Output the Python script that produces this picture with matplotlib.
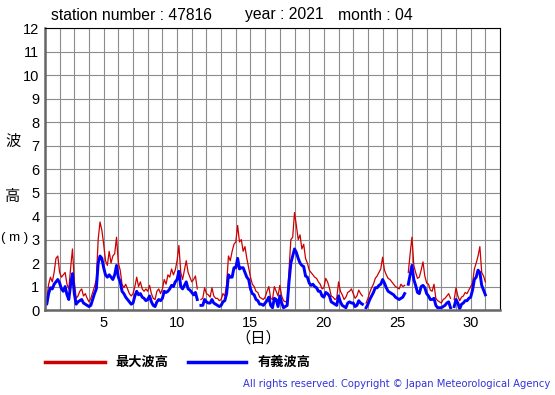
import numpy as np
import matplotlib
matplotlib.use("Agg")
import matplotlib.pyplot as plt
from matplotlib.lines import Line2D

plt.rcParams['font.family'] = ['Liberation Sans', 'Noto Sans CJK JP', 'DejaVu Sans']

# 3時間ごとの値 (4月1日0時から), None は欠測
max_wave = [
    0.6, 0.45, 1.1, 1.4, 1.2, 1.6, 2.2, 2.3,      # 1日
    1.6, 1.4, 1.5, 1.6, 1.1, 0.9, 1.8, 2.6,       # 2日
    1.2, 0.5, 0.6, 0.8, 0.9, 0.6, 0.7, 0.5,       # 3日
    0.35, 0.5, 0.75, 1.0, 1.3, 3.0, 3.75, 3.4,    # 4日
    2.8, 2.1, 1.9, 2.5, 2.0, 2.3, 2.4, 3.1,       # 5日
    2.0, 1.7, 1.1, 0.95, 1.1, 0.9, 0.7, 0.6,      # 6日
    0.7, 1.0, 1.4, 1.0, 1.2, 0.9, 0.8, 0.9,       # 7日
    0.8, 1.05, 0.7, 0.5, 0.45, 0.8, 0.9, 0.7,     # 8日
    0.9, 1.3, 1.1, 1.5, 1.4, 1.75, 1.5, 1.7,      # 9日
    2.1, 2.75, 1.6, 1.3, 1.7, 2.1, 1.6, 1.4,      # 10日
    1.2, 1.3, 1.45, 0.9, None, 0.45, 0.5, 0.95,   # 11日
    0.7, 0.65, 0.55, 0.95, 0.6, 0.5, 0.5, 0.4,    # 12日
    0.45, 0.7, 0.6, 1.1, 2.3, 2.1, 2.5, 2.8,      # 13日
    2.9, 3.6, 2.9, 3.0, 2.5, 2.7, 2.2, 1.8,       # 14日
    1.4, 1.1, 1.0, 0.8, 0.75, 0.55, 0.5, 0.45,    # 15日
    0.55, 0.8, 1.0, 0.5, 0.45, 1.0, 0.8, 0.6,     # 16日
    1.05, 0.6, 0.4, 0.35, 0.4, 1.7, 3.0, 3.1,     # 17日
    4.15, 3.6, 3.0, 3.2, 2.6, 2.8, 2.2, 2.0,      # 18日
    1.7, 1.6, 1.5, 1.4, 1.35, 1.2, 1.1, 0.9,      # 19日
    0.95, 1.35, 1.2, 0.95, 0.6, 0.55, 0.45, 0.5,  # 20日
    1.2, 0.8, 0.65, 0.45, 0.55, 0.75, 0.8, 0.9,   # 21日
    0.7, 0.5, 0.6, 0.85, 0.7, 0.6, None, 0.3,     # 22日
    0.5, 0.75, 0.95, 1.1, 1.35, 1.45, 1.6, 1.75,  # 23日
    2.25, 1.7, 1.5, 1.35, 1.3, 1.2, 1.1, 1.0,     # 24日
    0.95, 0.9, 1.1, 1.0, 1.05, None, 1.6, 2.4,    # 25日
    3.1, 1.9, 1.6, 1.35, 1.4, 1.7, 2.05, 1.45,    # 26日
    1.15, 1.1, 0.85, 0.8, 1.1, 0.5, 0.4, 0.35,    # 27日
    0.3, 0.45, 0.5, 0.6, 0.7, 0.5, None, 0.45,    # 28日
    0.95, 0.6, 0.4, 0.55, 0.6, 0.75, 0.7, 0.85,   # 29日
    1.0, 1.15, 1.75, 2.0, 2.3, 2.7, 1.6, 1.45,    # 30日
    1.2,
]
sig_wave = [
    0.35, 0.25, 0.7, 0.95, 0.9, 1.1, 1.2, 1.3,
    1.15, 0.9, 0.8, 1.0, 0.65, 0.45, 1.1, 1.55,
    0.7, 0.25, 0.35, 0.4, 0.45, 0.3, 0.25, 0.2,
    0.15, 0.2, 0.45, 0.7, 0.9, 2.0, 2.3, 2.2,
    1.8, 1.5, 1.4, 1.5, 1.4, 1.3, 1.5, 1.9,
    1.4, 1.2, 0.8, 0.7, 0.55, 0.45, 0.35, 0.25,
    0.3, 0.6, 0.8, 0.65, 0.7, 0.55, 0.5, 0.4,
    0.45, 0.6, 0.35, 0.2, 0.15, 0.35, 0.45, 0.4,
    0.5, 0.8, 0.75, 0.8, 0.9, 1.05, 1.0, 1.2,
    1.3, 1.65, 1.0, 0.9, 1.05, 1.2, 0.9, 0.85,
    0.75, 0.65, 0.75, 0.45, None, 0.2, 0.2, 0.45,
    0.35, 0.3, 0.3, 0.45, 0.3, 0.25, 0.2, 0.15,
    0.2, 0.35, 0.4, 0.7, 1.5, 1.4, 1.4, 1.8,
    1.8, 2.2, 1.75, 1.8, 1.8, 1.6, 1.4, 1.3,
    0.9, 0.7, 0.65, 0.45, 0.4, 0.25, 0.25, 0.2,
    0.3, 0.4, 0.55, 0.2, 0.1, 0.5, 0.45, 0.15,
    0.6, 0.3, 0.1, 0.15, 0.2, 1.2, 2.0, 2.3,
    2.6, 2.45, 2.2, 2.0, 1.9, 1.85, 1.45, 1.4,
    1.15, 1.05, 1.1, 1.0, 0.95, 0.8, 0.8, 0.6,
    0.55, 0.75, 0.7, 0.6, 0.35, 0.3, 0.25, 0.2,
    0.6, 0.35, 0.2, 0.15, 0.1, 0.3, 0.35, 0.3,
    0.3, 0.15, 0.2, 0.4, 0.3, 0.25, None, 0.1,
    0.25, 0.45, 0.6, 0.75, 0.95, 0.95, 1.05, 1.1,
    1.3, 1.15, 0.95, 0.8, 0.75, 0.7, 0.65, 0.55,
    0.5, 0.45, 0.5, 0.55, 0.7, None, 1.1, 1.5,
    1.9, 1.3, 1.05, 0.75, 0.7, 1.0, 1.05, 0.95,
    0.7, 0.6, 0.45, 0.45, 0.5, 0.2, 0.1, 0.1,
    0.1, 0.15, 0.2, 0.3, 0.35, 0.1, None, 0.15,
    0.45, 0.3, 0.05, 0.25, 0.3, 0.4, 0.4, 0.5,
    0.55, 0.85, 1.3, 1.4, 1.7, 1.6, 1.05, 0.85,
    0.65,
]
x_ticks = [5, 10, 15, 20, 25, 30]

mx = np.array([np.nan if v is None else v for v in max_wave])
sg = np.array([np.nan if v is None else v for v in sig_wave])
t = 1 + np.arange(len(mx)) / 8.0   # 日

fig = plt.figure(figsize=(5.55, 3.95), dpi=100)
ax = fig.add_axes([0.081, 0.215, 0.820, 0.714])

ax.plot(t, mx, color='#cc0000', lw=0.9)
ax.plot(t, sg, color='#0000ff', lw=2.1)

ax.set_xlim(1, 32)
ax.set_ylim(0, 12)
ax.set_xticks(np.arange(1, 33))
ax.set_xticklabels(['' if d not in x_ticks else str(d) for d in range(1, 33)])
ax.set_yticks(np.arange(0, 13))
ax.grid(True, color='#8c8c8c', lw=0.8)
ax.tick_params(length=0, labelsize=10.5, pad=4)
for s in ['left', 'bottom']:
    ax.spines[s].set_color('#666666')
    ax.spines[s].set_linewidth(1.8)
for s in ['top', 'right']:
    ax.spines[s].set_color('black')
    ax.spines[s].set_linewidth(0.8)

# タイトル
ty = 1 - 15 / 395
fig.text(51 / 555, ty, 'station number : 47816', fontsize=11.3, va='center')
fig.text(245 / 555, ty, 'year : 2021', fontsize=11.3, va='center')
fig.text(338 / 555, ty, 'month : 04', fontsize=11.3, va='center')

# 縦軸ラベル
fig.text(13 / 555, 1 - 141 / 395, '波', fontsize=11, ha='center', va='center', family='Noto Sans CJK JP')
fig.text(13 / 555, 1 - 196 / 395, '高', fontsize=11, ha='center', va='center', family='Noto Sans CJK JP')
fig.text(1 / 555, 1 - 238 / 395, '( m )', fontsize=9.5, ha='left', va='center')
fig.text(258 / 555, 1 - 338 / 395, '（日）', fontsize=11, ha='center', va='center', family='Noto Sans CJK JP')

# 凡例
ly = 1 - 362 / 395
fig.add_artist(Line2D([45 / 555, 105 / 555], [ly, ly], color='#cc0000', lw=2.5))
fig.text(115 / 555, ly, '最大波高', fontsize=9.5, va='center', fontweight='bold', family='Noto Sans CJK JP')
fig.add_artist(Line2D([188 / 555, 246 / 555], [ly, ly], color='#0000ff', lw=2.5))
fig.text(258 / 555, ly, '有義波高', fontsize=9.5, va='center', fontweight='bold', family='Noto Sans CJK JP')

fig.text(550 / 555, 1 - 384 / 395, 'All rights reserved. Copyright © Japan Meteorological Agency',
         fontsize=7.2, color='#3333dd', ha='right', va='center', family='DejaVu Sans')

fig.savefig('out.png', dpi=100)
